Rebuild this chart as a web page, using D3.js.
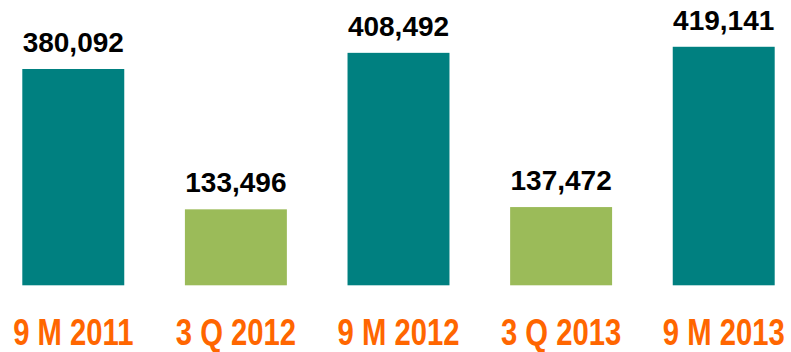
<!DOCTYPE html>
<html>
<head>
<meta charset="utf-8">
<script src="https://cdn.jsdelivr.net/npm/d3@7"></script>
<style>
  html, body { margin: 0; padding: 0; background: #fff; }
  svg { display: block; }
</style>
</head>
<body>
<svg id="chart" width="791" height="352"></svg>
<script>
// Period labels and totals
const categories = ["9 M 2011", "3 Q 2012", "9 M 2012", "3 Q 2013", "9 M 2013"];
const values = [380092, 133496, 408492, 137472, 419141];
const kinds = ["nine", "quarter", "nine", "quarter", "nine"];

const colors = { nine: "#008080", quarter: "#9BBB59" };

const svg = d3.select("#chart");
const baseY = 285.3;

const x = d3.scaleBand()
  .domain(categories)
  .range([22.3, 774.7])
  .paddingInner(0.373)
  .paddingOuter(0);

const y = d3.scaleLinear()
  .domain([0, 380092])
  .range([baseY, 69]);

const fmt = d3.format(",");

const g = svg.append("g");

g.selectAll("rect.bar")
  .data(categories)
  .join("rect")
  .attr("class", "bar")
  .attr("x", d => x(d))
  .attr("width", x.bandwidth())
  .attr("y", (d, i) => y(values[i]))
  .attr("height", (d, i) => baseY - y(values[i]))
  .attr("fill", (d, i) => colors[kinds[i]]);

// Value labels above each bar
g.selectAll("text.value")
  .data(categories)
  .join("text")
  .attr("class", "value")
  .attr("x", d => x(d) + x.bandwidth() / 2)
  .attr("y", (d, i) => y(values[i]) - 17)
  .attr("text-anchor", "middle")
  .attr("font-family", "'Liberation Sans', Arial, sans-serif")
  .attr("font-weight", "bold")
  .attr("font-size", 28)
  .attr("fill", "#000")
  .text((d, i) => fmt(values[i]));

// Period labels along the bottom, set in a condensed bold face
const axis = d3.axisBottom(x).tickSize(0).tickPadding(0);
const ax = svg.append("g")
  .attr("transform", `translate(0, ${baseY})`)
  .call(axis);
ax.select(".domain").remove();
ax.selectAll(".tick text")
  .attr("y", 60)
  .attr("dy", 0)
  .attr("transform", "scale(0.79,1)")
  .attr("font-family", "'Liberation Sans', Arial, sans-serif")
  .attr("font-weight", "bold")
  .attr("font-size", 37)
  .attr("fill", "#FF6600");
</script>
</body>
</html>
